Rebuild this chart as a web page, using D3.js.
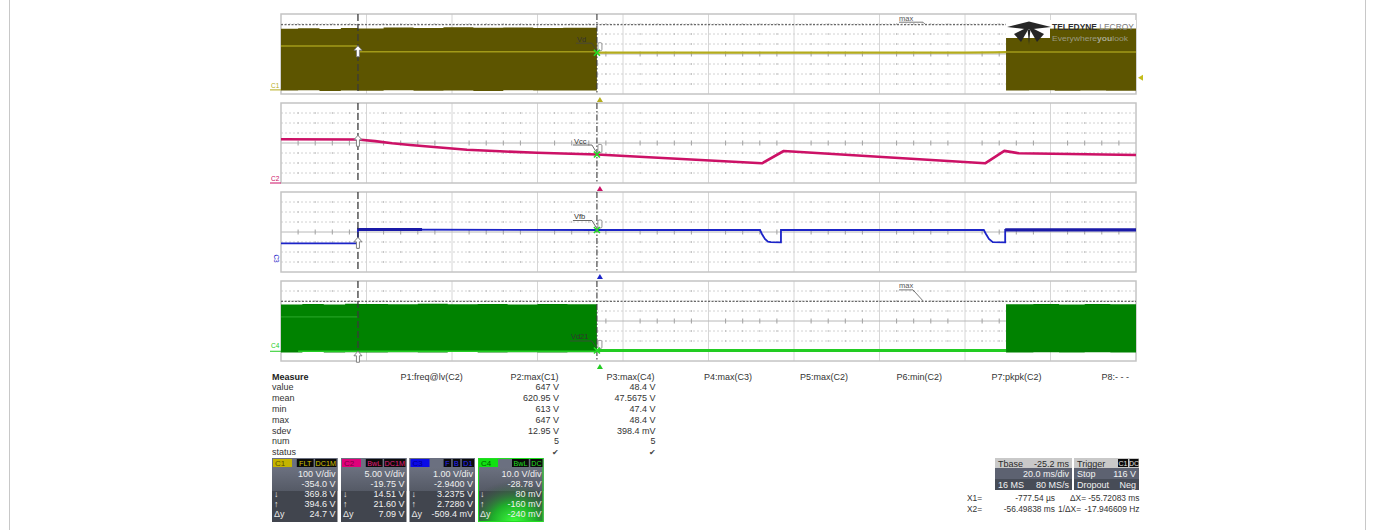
<!DOCTYPE html>
<html><head><meta charset="utf-8">
<script src="https://cdn.jsdelivr.net/npm/d3@7"></script>
<style>body{margin:0;background:#fff;} svg{display:block;font-family:"Liberation Sans",Arial,sans-serif;}</style>
</head><body><svg id="c" width="1375" height="530"></svg>
<script>
// ---------------- DATA ----------------
const timeDomain = [0, 200];            // ms, 10 div x 20 ms/div
const cursorTime = [18.0, 73.9];         // X1, X2 cursor positions (ms on screen)
const triggerTime = 74.6;
const triggerLevelC1 = 116;              // V

const channelNames = ["C1", "C2", "C3", "C4"];
const voltsPerDiv = [100, 5, 1, 10];
const channelOffset = [-354.0, -19.75, -2.94, -28.78];
const traceLabels = ["Vd", "Vcc", "Vfb", "Vd21"];
const labelValues = [367, 14.0, 3.14, -0.7];   // trace value at X2

// C1 (switching node, envelope + mean)
const c1EnvTime = [0, 4, 9, 14, 18, 24, 31, 38, 45, 52, 59, 66, 73.9];
const c1EnvMax = [606, 611, 604, 613, 609, 618, 614, 621, 616, 619, 613, 617, 611];
const c1EnvMin = [-12, -8, -15, -10, -14, -9, -13, -11, -15, -8, -12, -10, -13];
const c1MeanTime = [0, 18, 18, 73.9];
const c1Mean = [434, 434, 377, 377];
const c1TraceTime = [73.9, 140, 160, 167, 169.6];
const c1Trace = [367, 367, 368, 371, 372];
const c1Env2Time = [169.6, 175, 181, 187, 193, 200];
const c1Env2Max = [614, 612, 616, 613, 615, 612];
const c1Env2Min = [-12, -9, -14, -10, -13, -11];
const c1Mean2Time = [169.6, 200];
const c1Mean2 = [374, 374];

// C2 (Vcc)
const c2Time = [0, 18, 22, 26, 30.2, 37.2, 43.5, 51.2, 59.9, 73.9, 112.5, 117.6, 164.7, 169.2, 172.6, 200];
const c2Volts = [21.6, 21.5, 20.7, 19.6, 18.75, 17.5, 16.4, 15.6, 14.85, 14.0, 9.6, 15.75, 9.6, 15.8, 14.6, 13.75];

// C3 (Vfb)
const c3Time = [0, 18.0, 18.0, 18.8, 73.9, 112.05, 112.5, 113.2, 113.9, 114.6, 116.95, 116.95, 164.4, 164.9, 165.6, 166.5, 169.4, 169.4, 200];
const c3Volts = [1.81, 1.81, 3.26, 3.19, 3.14, 3.14, 2.74, 2.24, 1.97, 1.92, 1.91, 3.14, 3.14, 2.74, 2.24, 1.93, 1.91, 3.15, 3.15];
const c3NoisyRanges = [[18.0, 33.0], [169.4, 200]];

// C4 (Vd21, envelope)
const c4EnvTime = [0, 5, 10, 15, 18, 25, 32, 39, 46, 53, 60, 67, 73.9];
const c4EnvMax = [45.3, 45.9, 45.4, 46.1, 45.7, 45.5, 46.0, 45.6, 45.9, 45.4, 45.8, 45.6, 45.8];
const c4EnvMin = [-2.6, -2.3, -2.8, -2.4, -2.7, -2.5, -2.6, -2.3, -2.8, -2.5, -2.6, -2.4, -2.7];
const c4MeanTime = [0, 18];
const c4Mean = [33, 33];
const c4TraceTime = [73.9, 169.6];
const c4Trace = [-0.7, -0.7];
const c4Env2Time = [169.6, 176, 182, 188, 194, 200];
const c4Env2Max = [45.6, 45.9, 45.4, 45.8, 45.5, 45.7];
const c4Env2Min = [-2.6, -2.4, -2.7, -2.5, -2.6, -2.4];

const maxMarkerC1 = 647;
const maxMarkerC4 = 48.4;

// measurement table
const measureRows = ["value", "mean", "min", "max", "sdev", "num", "status"];
const measureHeaders = ["P1:freq@lv(C2)", "P2:max(C1)", "P3:max(C4)", "P4:max(C3)", "P5:max(C2)", "P6:min(C2)", "P7:pkpk(C2)", "P8:- - -"];
const p2Values = ["647 V", "620.95 V", "613 V", "647 V", "12.95 V", "5", "✔"];
const p3Values = ["48.4 V", "47.5675 V", "47.4 V", "48.4 V", "398.4 mV", "5", "✔"];

// channel descriptor boxes
const chTags = [["FLT", "DC1M"], ["BwL", "DC1M"], ["F", "B", "D1"], ["BwL", "DC"]];
const chVdiv = ["100 V/div", "5.00 V/div", "1.00 V/div", "10.0 V/div"];
const chOffsetTxt = ["-354.0 V", "-19.75 V", "-2.9400 V", "-28.78 V"];
const chDown = ["369.8 V", "14.51 V", "3.2375 V", "80 mV"];
const chUp = ["394.6 V", "21.60 V", "2.7280 V", "-160 mV"];
const chDy = ["24.7 V", "7.09 V", "-509.4 mV", "-240 mV"];

// timebase / trigger
const tbase = ["Tbase", "-25.2 ms", "20.0 ms/div", "16 MS", "80 MS/s"];
const trig = ["Trigger", "C1", "DC", "Stop", "116 V", "Dropout", "Neg"];
const cursorReadout = [["X1=", "-777.54 µs", "ΔX=", "-55.72083 ms"], ["X2=", "-56.49838 ms", "1/ΔX=", "-17.946609 Hz"]];

// ---------------- DRAWING ----------------
const svg = d3.select("#c");
const left = 281, right = 1136, panelH = 80;
const panelTops = [14, 103, 192, 281];
const colors = ["#b4ac1c", "#cc1166", "#1c24c8", "#22cc22"];
const fills = ["#5d5500", null, null, "#008200"];

svg.append("rect").attr("x", 9.5).attr("y", -1).attr("width", 1356).attr("height", 532)
  .attr("fill", "#fff").attr("stroke", "#c8c8c8");

const x = d3.scaleLinear().domain(timeDomain).range([left, right]);
const ys = channelNames.map((c, i) => {
  const center = -channelOffset[i];
  return d3.scaleLinear().domain([center - 4 * voltsPerDiv[i], center + 4 * voltsPerDiv[i]])
    .range([panelTops[i] + panelH, panelTops[i]]);
});

// grids
panelTops.forEach((top, pi) => {
  const g = svg.append("g");
  g.append("rect").attr("x", left).attr("y", top).attr("width", right - left).attr("height", panelH)
    .attr("fill", "#fff");
  const xt = d3.range(1, 10).map(k => timeDomain[0] + k * 20);
  g.selectAll(".vg").data(xt).join("line")
    .attr("x1", d => x(d)).attr("x2", d => x(d)).attr("y1", top).attr("y2", top + panelH)
    .attr("stroke", "#d6d6d6").attr("stroke-width", 1);
  for (let k = 1; k < 8; k++) {
    const yy = top + k * 10;
    const center = k === 4;
    g.append("line").attr("x1", left).attr("x2", right).attr("y1", yy).attr("y2", yy)
      .attr("stroke", center ? "#b8b8b8" : "#d2d2d2").attr("stroke-width", 1)
      .attr("stroke-dasharray", center ? null : "2,2");
    const minor = d3.range(1, 50).map(m => timeDomain[0] + m * 4).filter(t => t % 20 !== 0);
    g.selectAll(null).data(minor).join("line")
      .attr("x1", d => x(d)).attr("x2", d => x(d))
      .attr("y1", yy - (center ? 2.5 : 1)).attr("y2", yy + (center ? 2.5 : 1))
      .attr("stroke", center ? "#a0a0a0" : "#c0c0c0").attr("stroke-width", 1);
  }
  g.append("rect").attr("x", left).attr("y", top).attr("width", right - left).attr("height", panelH)
    .attr("fill", "none").attr("stroke", "#c4c4c4").attr("stroke-width", 1.5);
});

function zip(t, v) { return t.map((d, i) => [d, v[i]]); }
function envArea(i, t, hi, lo) {
  const pts = t.map((d, k) => ({ t: d, hi: hi[k], lo: lo[k] }));
  return d3.area().x(d => x(d.t)).y0(d => ys[i](d.lo)).y1(d => ys[i](d.hi)).curve(d3.curveStepAfter)(pts);
}
function linePath(i, t, v) {
  return d3.line().x(d => x(d[0])).y(d => ys[i](d[1]))(zip(t, v));
}
const plot = svg.append("g");

// max marker lines
[[0, maxMarkerC1], [3, maxMarkerC4]].forEach(([i, v]) => {
  plot.append("line").attr("x1", left).attr("x2", right).attr("y1", ys[i](v)).attr("y2", ys[i](v))
    .attr("stroke", "#6a6a6a").attr("stroke-width", 1.2).attr("stroke-dasharray", "2,1.5");
});

// C1
plot.append("path").attr("d", envArea(0, c1EnvTime, c1EnvMax, c1EnvMin)).attr("fill", fills[0]);
plot.append("path").attr("d", envArea(0, c1Env2Time, c1Env2Max, c1Env2Min)).attr("fill", fills[0]);
plot.append("path").attr("d", linePath(0, c1MeanTime, c1Mean)).attr("fill", "none").attr("stroke", "#a29a18").attr("stroke-width", 1.5);
plot.append("path").attr("d", linePath(0, c1Mean2Time, c1Mean2)).attr("fill", "none").attr("stroke", "#a29a18").attr("stroke-width", 1.5);
plot.append("path").attr("d", linePath(0, c1TraceTime, c1Trace)).attr("fill", "none").attr("stroke", colors[0]).attr("stroke-width", 2.2);

// C2
plot.append("path").attr("d", linePath(1, c2Time, c2Volts)).attr("fill", "none").attr("stroke", colors[1]).attr("stroke-width", 2.6).attr("stroke-linejoin", "round");

// C3
plot.append("path").attr("d", linePath(2, c3Time, c3Volts)).attr("fill", "none").attr("stroke", colors[2]).attr("stroke-width", 1.8);
c3NoisyRanges.forEach(([a, b]) => {
  const pts = zip(c3Time, c3Volts).filter(d => d[0] >= a && d[0] <= b);
  const seg = pts.length > 1 ? [[a, pts[pts.length - 1][1]], [b, pts[pts.length - 1][1]]] : [[a, pts[0][1]], [b, pts[0][1]]];
  plot.append("path").attr("d", d3.line().x(d => x(d[0])).y(d => ys[2](d[1]))(seg))
    .attr("fill", "none").attr("stroke", "#1a1aa8").attr("stroke-width", 3.2);
});

// C4
plot.append("path").attr("d", envArea(3, c4EnvTime, c4EnvMax, c4EnvMin)).attr("fill", fills[3]);
plot.append("path").attr("d", envArea(3, c4Env2Time, c4Env2Max, c4Env2Min)).attr("fill", fills[3]);
plot.append("path").attr("d", linePath(3, c4MeanTime, c4Mean)).attr("fill", "none").attr("stroke", "#22a022").attr("stroke-width", 1.2);
plot.append("path").attr("d", linePath(3, c4TraceTime, c4Trace)).attr("fill", "none").attr("stroke", colors[3]).attr("stroke-width", 3);
plot.append("line").attr("x1", x(4)).attr("x2", x(73.9)).attr("y1", ys[3](-1.5)).attr("y2", ys[3](-1.5)).attr("stroke", "#22cc22").attr("stroke-width", 1.5);

// cursors
panelTops.forEach(top => {
  plot.append("line").attr("x1", x(cursorTime[0])).attr("x2", x(cursorTime[0])).attr("y1", top).attr("y2", top + panelH)
    .attr("stroke", "#3a3a3a").attr("stroke-width", 1.3).attr("stroke-dasharray", "7,3");
  plot.append("line").attr("x1", x(cursorTime[1])).attr("x2", x(cursorTime[1])).attr("y1", top).attr("y2", top + panelH)
    .attr("stroke", "#3a3a3a").attr("stroke-width", 1.1).attr("stroke-dasharray", "6,2,1.5,2");
});

// cursor arrow icons at X1
const arrowY = [c1Mean[2], 20.6, 1.81, -1.5];
arrowY.forEach((v, i) => {
  const cx = x(cursorTime[0]), cy = ys[i](v) + (i === 3 ? 6 : 0);
  plot.append("path").attr("transform", `translate(${cx},${cy})`)
    .attr("d", "M0,-6 L4,-1.5 L1.5,-1.5 L1.5,5 L-1.5,5 L-1.5,-1.5 L-4,-1.5 Z")
    .attr("fill", "#fff").attr("stroke", "#777").attr("stroke-width", 0.9);
});

// labels at X2
labelValues.forEach((v, i) => {
  const cx = x(cursorTime[1]), cy = ys[i](v);
  const tx = cx - 14 - traceLabels[i].length * 3;
  const ty = cy - 11;
  plot.append("path").attr("d", `M${tx - 1},${ty + 1.5} L${cx - 5},${ty + 1.5} L${cx - 1},${cy - 3}`)
    .attr("fill", "none").attr("stroke", "#444").attr("stroke-width", 0.8);
  plot.append("text").attr("x", tx).attr("y", ty).attr("font-size", 7.5).attr("fill", "#333").text(traceLabels[i]);
  plot.append("rect").attr("x", cx + 1).attr("y", cy - 10).attr("width", 4).attr("height", 8).attr("rx", 1.2)
    .attr("fill", "#fff").attr("stroke", "#777").attr("stroke-width", 0.8);
  plot.append("path").attr("d", `M${cx - 3},${cy - 3} L${cx + 3},${cy + 3} M${cx - 3},${cy + 3} L${cx + 3},${cy - 3}`)
    .attr("stroke", "#22dd22").attr("stroke-width", 1.6);
});

// max labels
[[0, maxMarkerC1, -4], [3, maxMarkerC4, -13]].forEach(([i, v, dy]) => {
  const yy = ys[i](v);
  plot.append("text").attr("x", 899).attr("y", yy + dy).attr("font-size", 7.5).attr("fill", "#555").text("max");
  plot.append("path").attr("d", `M899,${yy + dy + 1.5} L${dy < -5 ? 913 : 923},${yy + dy + 1.5} L${dy < -5 ? 923 : 925},${yy - 0.5}`)
    .attr("fill", "none").attr("stroke", "#555").attr("stroke-width", 0.8);
});

// trigger position markers
channelNames.forEach((c, i) => {
  const by = panelTops[i] + panelH + 3;
  const px = x(triggerTime);
  plot.append("path").attr("d", `M${px - 3},${by + 5} L${px + 3},${by + 5} L${px},${by} Z`)
    .attr("fill", colors[i]).attr("transform", i === 2 ? `translate(0,${-1})` : null);
});
// trigger level C1
{
  const ty = ys[0](triggerLevelC1);
  plot.append("path").attr("d", `M${right + 2},${ty} L${right + 7},${ty - 3} L${right + 7},${ty + 3} Z`).attr("fill", "#c4bc1c");
}

// ground markers
channelNames.forEach((c, i) => {
  const gy = ys[i](0);
  plot.append("line").attr("x1", 270).attr("x2", left).attr("y1", gy + (i === 3 ? 1.5 : 0.5)).attr("y2", gy + (i === 3 ? 1.5 : 0.5))
    .attr("stroke", colors[i]).attr("stroke-width", 1).attr("opacity", i === 2 ? 0 : 1);
  const t = plot.append("text").attr("font-size", 6.5).attr("fill", colors[i]).text(c);
  if (i === 2) t.attr("transform", `translate(${274},${gy - 7}) rotate(90)`);
  else t.attr("x", 271).attr("y", gy - 1.5);
});

// logo
{
  const lg = svg.append("g");
  lg.append("rect").attr("x", 1006).attr("y", 20).attr("width", 130).attr("height", 8.5).attr("fill", "#fff");
  lg.append("rect").attr("x", 1006).attr("y", 28).attr("width", 44).attr("height", 10).attr("fill", "#fff");
  lg.append("path").attr("d", "M1007,27 L1029,21.5 L1051,27 L1029,29.5 Z").attr("fill", "#262626");
  lg.append("path").attr("d", "M1027,27.5 L1014,34 L1021,42 L1028.2,29.5 Z").attr("fill", "#262626");
  lg.append("path").attr("d", "M1031,27.5 L1044,34 L1037,42 L1029.8,29.5 Z").attr("fill", "#262626");
  lg.append("path").attr("d", "M1027.6,29.5 L1029,44.5 L1030.4,29.5 Z").attr("fill", "#262626");
  lg.append("text").attr("x", 1052).attr("y", 29.5).attr("font-size", 8.5).attr("font-weight", "bold")
    .attr("textLength", 82).attr("lengthAdjust", "spacingAndGlyphs").attr("fill", "#2e2e2e")
    .html('TELEDYNE <tspan fill="#7a7a7a" font-weight="normal">LECROY</tspan>');
  lg.append("text").attr("x", 1052).attr("y", 41).attr("font-size", 7)
    .attr("textLength", 76).attr("lengthAdjust", "spacingAndGlyphs").attr("fill", "#9a9a80")
    .html('Everywhere<tspan font-weight="bold" fill="#a8a890">you</tspan>look');
}

// measurement table
{
  const mt = svg.append("g").attr("font-size", 9).attr("fill", "#333");
  const base = 379.5, step = 10.8;
  mt.append("text").attr("x", 272).attr("y", base).attr("font-weight", "bold").attr("fill", "#222").text("Measure");
  measureRows.forEach((r, k) => mt.append("text").attr("x", 272).attr("y", base + (k + 1) * step).text(r));
  const hx = [400.5, 510.5, 606.5, 704, 800, 896.5, 991.5, 1101.5];
  measureHeaders.forEach((h, k) => mt.append("text").attr("x", hx[k]).attr("y", base).text(h));
  [[p2Values, 559], [p3Values, 655.5]].forEach(([vals, rx]) => {
    vals.forEach((v, k) => mt.append("text").attr("x", rx).attr("y", base + (k + 1) * step)
      .attr("text-anchor", "end").attr("font-size", v === "✔" ? 8 : 9).attr("fill", v === "✔" ? "#444" : "#333").text(v));
  });
}

// channel boxes
{
  const defs = svg.append("defs");
  const lgU = defs.append("linearGradient").attr("id", "bodyU").attr("x1", 0).attr("x2", 0).attr("y1", 0).attr("y2", 1);
  lgU.append("stop").attr("offset", 0).attr("stop-color", "#6c7180");
  lgU.append("stop").attr("offset", 1).attr("stop-color", "#555a66");
  const rg = defs.append("radialGradient").attr("id", "glow").attr("cx", 0.55).attr("cy", 1).attr("r", 0.75);
  rg.append("stop").attr("offset", 0).attr("stop-color", "#3cff3c");
  rg.append("stop").attr("offset", 0.45).attr("stop-color", "#1fae2a");
  rg.append("stop").attr("offset", 1).attr("stop-color", "#3f4a48").attr("stop-opacity", 0);
  const bx = [272, 341, 409.5, 478], bw = 65.5, by = 458, bh = 64;
  const lblBg = ["#c4b400", "#e0007a", "#0a0ae8", "#11e011"];
  const lblTx = ["#5a5000", "#7a0040", "#00008a", "#005a00"];
  const tagTx = ["#d4c400", "#e0207a", "#2828ff", "#22dd22"];
  channelNames.forEach((c, i) => {
    const g = svg.append("g").attr("transform", `translate(${bx[i]},${by})`);
    g.append("rect").attr("width", bw).attr("height", bh).attr("fill", "#41454e");
    g.append("rect").attr("y", 0).attr("width", bw).attr("height", 9).attr("fill", "#6b7080");
    g.append("rect").attr("y", 9).attr("width", bw).attr("height", 24).attr("fill", "url(#bodyU)");
    if (i === 3) {
      g.append("rect").attr("y", 9).attr("width", bw).attr("height", bh - 9).attr("fill", "url(#glow)");
      g.append("rect").attr("x", 0.5).attr("y", 0.5).attr("width", bw - 1).attr("height", bh - 1)
        .attr("fill", "none").attr("stroke", "#22dd22").attr("stroke-width", 1);
    }
    g.append("rect").attr("x", 1).attr("y", 1).attr("width", 19).attr("height", 8).attr("fill", lblBg[i]);
    g.append("text").attr("x", 3).attr("y", 8).attr("font-size", 8).attr("fill", lblTx[i]).text(c);
    let tx = bw - 1;
    [...chTags[i]].reverse().forEach(tag => {
      const w = tag.length * 4.6 + 3;
      tx -= w;
      g.append("rect").attr("x", tx).attr("y", 1).attr("width", w).attr("height", 8).attr("fill", "#0a0a0a");
      g.append("text").attr("x", tx + w / 2).attr("y", 7.8).attr("text-anchor", "middle").attr("font-size", 7.2)
        .attr("fill", tagTx[i]).text(tag);
      tx -= 1.5;
    });
    const rows = [chVdiv[i], chOffsetTxt[i], chDown[i], chUp[i], chDy[i]];
    const sym = ["", "", "↓", "↑", "Δy"];
    rows.forEach((r, k) => {
      const yy = 18.5 + k * 10.1;
      g.append("text").attr("x", bw - 2).attr("y", yy).attr("text-anchor", "end").attr("font-size", 9)
        .attr("fill", "#f0f0f0").text(r);
      if (sym[k]) g.append("text").attr("x", 2).attr("y", yy).attr("font-size", 9).attr("fill", "#e8e8e8").text(sym[k]);
    });
  });
}

// timebase + trigger boxes
{
  const g = svg.append("g").attr("font-size", 9);
  const tx0 = 995, tw = 77, gx0 = 1074, gw = 65, y0 = 458;
  [[tx0, tw], [gx0, gw]].forEach(([bx, w]) => {
    g.append("rect").attr("x", bx).attr("y", y0).attr("width", w).attr("height", 32).attr("fill", "#474c57");
    g.append("rect").attr("x", bx).attr("y", y0).attr("width", w).attr("height", 10).attr("fill", "#c9c9c9");
    g.append("rect").attr("x", bx).attr("y", y0 + 10).attr("width", w).attr("height", 11).attr("fill", "#5d6271");
  });
  g.append("text").attr("x", tx0 + 3).attr("y", y0 + 8.5).attr("fill", "#2a2a2a").text(tbase[0]);
  g.append("text").attr("x", tx0 + tw - 3).attr("y", y0 + 8.5).attr("text-anchor", "end").attr("fill", "#2a2a2a").text(tbase[1]);
  g.append("text").attr("x", tx0 + tw - 3).attr("y", y0 + 19).attr("text-anchor", "end").attr("fill", "#f2f2f2").text(tbase[2]);
  g.append("text").attr("x", tx0 + 3).attr("y", y0 + 30).attr("fill", "#f2f2f2").text(tbase[3]);
  g.append("text").attr("x", tx0 + tw - 3).attr("y", y0 + 30).attr("text-anchor", "end").attr("fill", "#f2f2f2").text(tbase[4]);
  g.append("text").attr("x", gx0 + 3).attr("y", y0 + 8.5).attr("fill", "#2a2a2a").text(trig[0]);
  [[trig[1], gx0 + 44, 10], [trig[2], gx0 + 55.5, 9]].forEach(([t, xx, w]) => {
    g.append("rect").attr("x", xx).attr("y", y0 + 1).attr("width", w).attr("height", 8).attr("fill", "#0a0a0a");
    g.append("text").attr("x", xx + w / 2).attr("y", y0 + 8).attr("text-anchor", "middle").attr("font-size", 7).attr("fill", "#e0e0e0").text(t);
  });
  g.append("text").attr("x", gx0 + 3).attr("y", y0 + 19).attr("fill", "#f2f2f2").text(trig[3]);
  g.append("text").attr("x", gx0 + gw - 3).attr("y", y0 + 19).attr("text-anchor", "end").attr("fill", "#f2f2f2").text(trig[4]);
  g.append("text").attr("x", gx0 + 3).attr("y", y0 + 30).attr("fill", "#f2f2f2").text(trig[5]);
  g.append("text").attr("x", gx0 + gw - 3).attr("y", y0 + 30).attr("text-anchor", "end").attr("fill", "#f2f2f2").text(trig[6]);
  const rd = svg.append("g").attr("font-size", 8.4).attr("fill", "#333");
  cursorReadout.forEach((row, k) => {
    const yy = 501 + k * 10.6;
    rd.append("text").attr("x", 967).attr("y", yy).text(row[0]);
    rd.append("text").attr("x", 1055).attr("y", yy).attr("text-anchor", "end").text(row[1]);
    rd.append("text").attr("x", k === 0 ? 1070 : 1058).attr("y", yy).text(row[2]);
    rd.append("text").attr("x", 1139.5).attr("y", yy).attr("text-anchor", "end").text(row[3]);
  });
}
</script></body></html>
